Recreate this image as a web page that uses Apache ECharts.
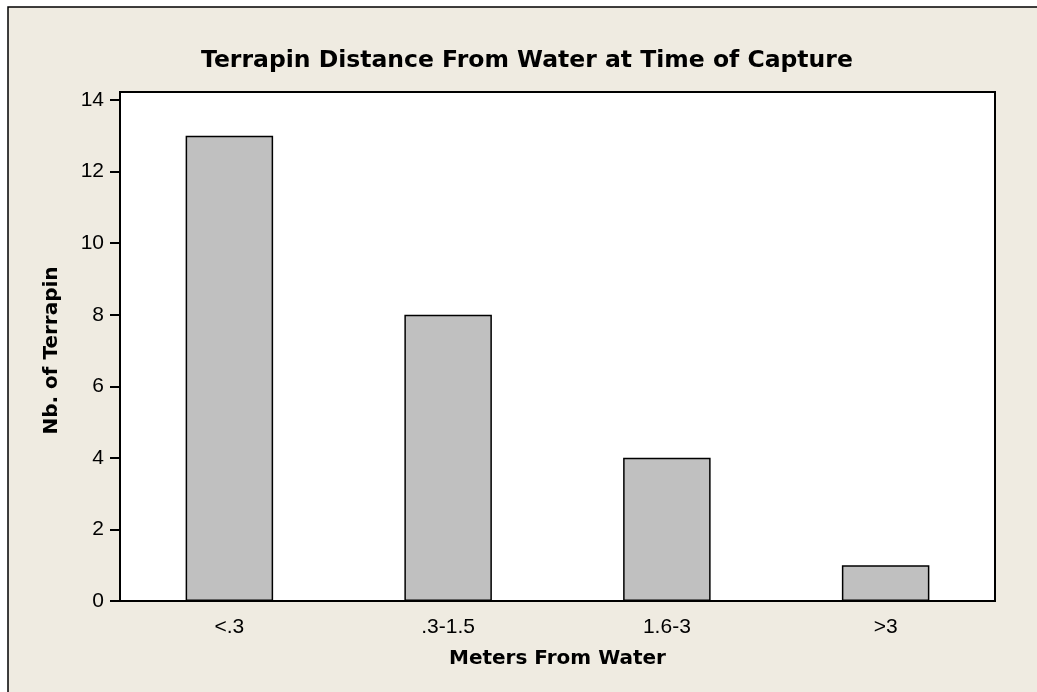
<!DOCTYPE html>
<html>
<head>
<meta charset="utf-8">
<script src="https://cdn.jsdelivr.net/npm/echarts@6/dist/echarts.min.js"></script>
<style>
html,body{margin:0;padding:0;background:#fff;}
#chart{width:1037px;height:692px;}
</style>
</head>
<body>
<div id="chart"></div>
<script>
const titleText = 'Terrapin Distance From Water at Time of Capture';
const categories = ['<.3', '.3-1.5', '1.6-3', '>3'];
const counts = [13, 8, 4, 1];
const yTicks = { min: 0, max: 14, interval: 2 };
const xName = 'Meters From Water';
const yName = 'Nb. of Terrapin';

const FONT = '"Liberation Sans", Arial, sans-serif';
const BOLD = '"DejaVu Sans", Verdana, sans-serif';
const chart = echarts.init(document.getElementById('chart'));
chart.setOption({
  backgroundColor: '#ffffff',
  animation: false,
  graphic: [{
    type: 'rect', z: -10,
    shape: { x: 8, y: 7, width: 1100, height: 760 },
    style: { fill: '#efebe1', stroke: '#000', lineWidth: 1.5 }
  }],
  title: {
    text: titleText,
    left: 196,
    top: 44,
    textStyle: { fontFamily: BOLD, fontSize: 23.5, fontWeight: 'bold', color: '#000' }
  },
  grid: [
    { left: 120, right: 42, top: 92, bottom: 91, show: true, backgroundColor: '#fff', borderColor: '#000', borderWidth: 2, z: 0 },
    { left: 120, right: 42, top: 100, bottom: 91 }
  ],
  xAxis: [
    { gridIndex: 0, type: 'value', show: false },
    {
      gridIndex: 1, type: 'category', data: categories,
      name: xName, nameLocation: 'middle', nameGap: 48,
      nameTextStyle: { fontFamily: BOLD, fontSize: 20, fontWeight: 'bold', color: '#000' },
      axisLine: { lineStyle: { color: '#000', width: 2 } },
      axisTick: { alignWithLabel: true, length: 9, lineStyle: { color: '#000', width: 2 } },
      axisLabel: { fontFamily: FONT, fontSize: 21, color: '#000', margin: 16 }
    }
  ],
  yAxis: [
    { gridIndex: 0, type: 'value', show: false },
    {
      gridIndex: 1, type: 'value', min: yTicks.min, max: yTicks.max, interval: yTicks.interval,
      name: yName, nameLocation: 'middle', nameGap: 58, nameRotate: 90,
      nameTextStyle: { fontFamily: BOLD, fontSize: 20, fontWeight: 'bold', color: '#000' },
      axisLine: { show: true, lineStyle: { color: '#000', width: 2 } },
      axisTick: { show: true, length: 10, lineStyle: { color: '#000', width: 2 } },
      splitLine: { show: false },
      axisLabel: { fontFamily: FONT, fontSize: 21, color: '#000', margin: 16 }
    }
  ],
  series: [{
    type: 'bar', xAxisIndex: 1, yAxisIndex: 1,
    data: counts, barWidth: '40%',
    itemStyle: { color: '#c0c0c0', borderColor: '#000', borderWidth: 1.5 }
  }]
});
</script>
</body>
</html>
